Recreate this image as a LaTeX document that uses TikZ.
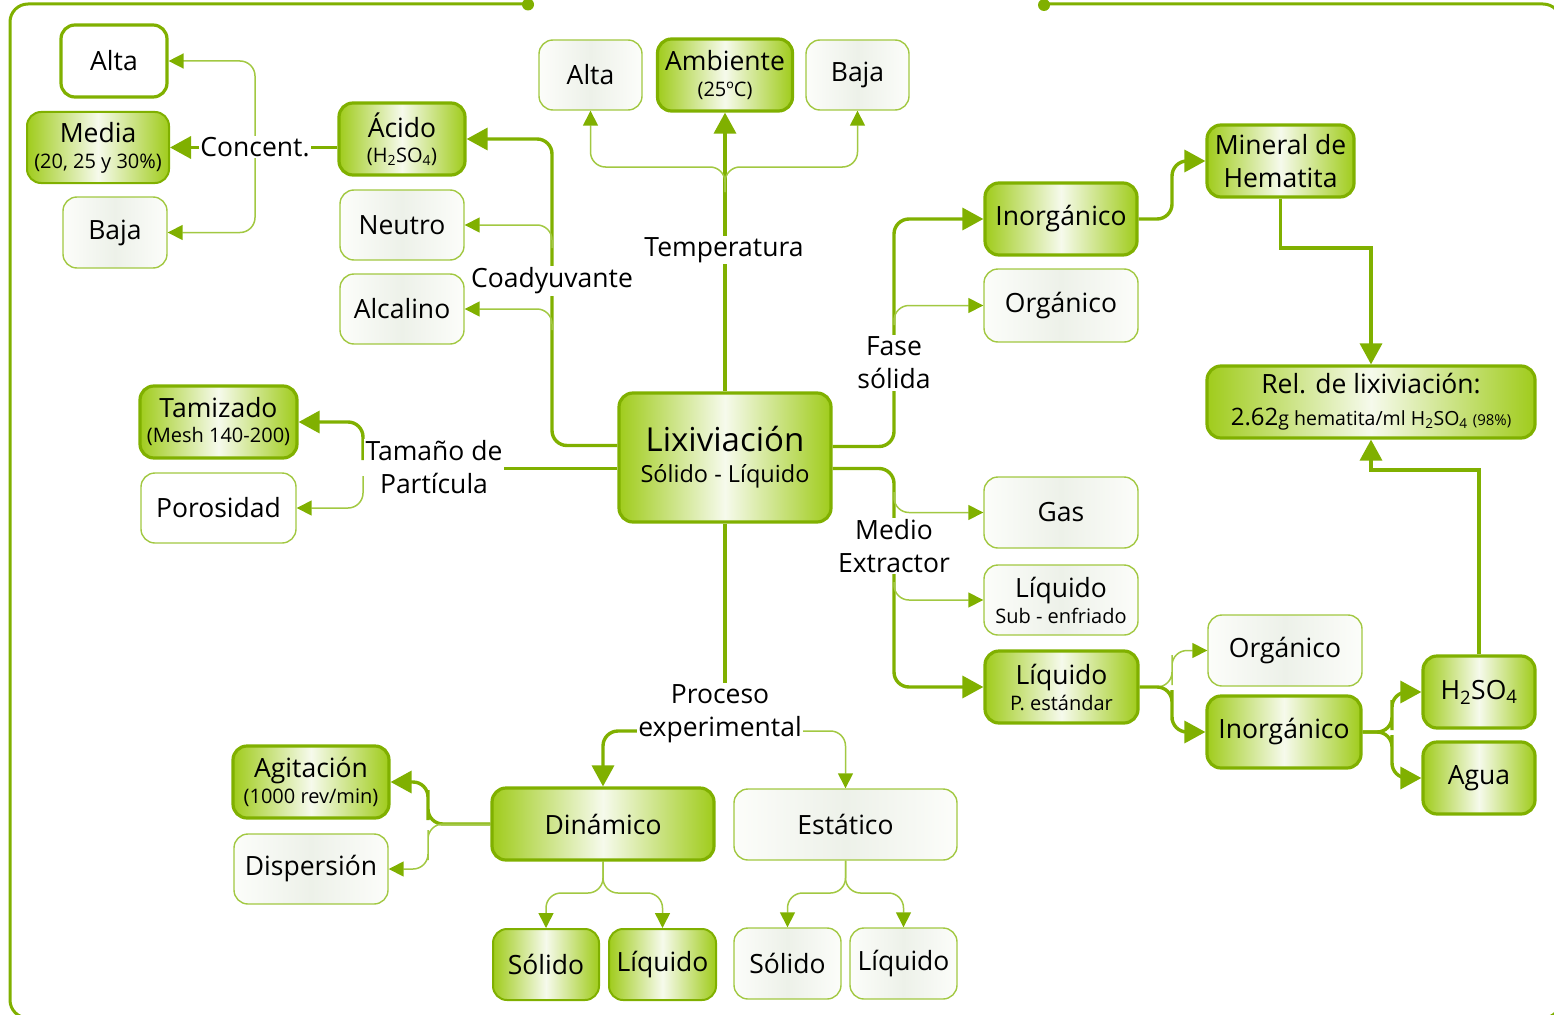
\documentclass[tikz,border=0pt]{standalone}
\usepackage{fontspec}
\setmainfont{Open Sans}
\usetikzlibrary{arrows.meta}
\pgfdeclarelayer{bg}
\pgfsetlayers{bg,main}

\definecolor{gD}{RGB}{128,176,0}
\definecolor{gF}{RGB}{160,204,28}
\definecolor{gM}{RGB}{246,250,236}
\definecolor{gL}{RGB}{162,200,66}
\definecolor{lE}{RGB}{252,253,250}
\definecolor{lM}{RGB}{237,241,233}

\newcommand{\subtxt}[1]{{\fontsize{20}{23}\selectfont #1}}
\newcommand{\hso}{H\textsubscript{2}SO\textsubscript{4}}

\tikzset{
  base/.style={rounded corners=14pt, inner sep=0pt, align=center,
    font=\fontsize{26.5}{29}\selectfont},
  gbox/.style={base, draw=gD, line width=3.2pt,
    left color=gF, right color=gF, middle color=gM},
  gboxthin/.style={gbox, line width=2pt},
  lbox/.style={base, draw=gL, line width=1.4pt,
    left color=lE, right color=lE, middle color=lM},
  wbox/.style={base, draw=gD, line width=3.2pt, fill=white},
  wboxthin/.style={base, draw=gL, line width=1.4pt, fill=white},
  lbl/.style={fill=white, inner sep=1.5pt, align=center,
    font=\fontsize{26.5}{33}\selectfont},
  thk/.style={draw=gD, line width=3.4pt, rounded corners=15pt},
  thn/.style={draw=gL, line width=1.5pt, rounded corners=15pt},
  thkA/.style={thk, -{Triangle[length=21pt,width=22pt,color=gD]}},
  thnA/.style={thn, -{Triangle[length=15pt,width=15pt,color=gD]}},
}

\begin{document}
\begin{tikzpicture}[x=1pt,y=-1pt]
\useasboundingbox (0,0) rectangle (1554,1014);

% ---------- boxes ----------
% concentration
\node[wbox, minimum width=106pt, minimum height=72pt] (AltaL) at (114,61) {Alta};
\node[gboxthin, minimum width=142pt, minimum height=71pt] (Media) at (98,147.5)
  {Media\\[-3pt]\subtxt{(20, 25 y 30\%)}};
\node[lbox, minimum width=104pt, minimum height=71pt] (BajaL) at (115,232.5) {Baja};

% co-adjuvant
\node[gbox, minimum width=126pt, minimum height=72pt] (Acido) at (402,139)
  {Ácido\\[-4pt]\subtxt{(\hso)}};
\node[lbox, minimum width=124pt, minimum height=70pt] (Neutro) at (402,225) {Neutro};
\node[lbox, minimum width=124pt, minimum height=70pt] (Alcal) at (402,309) {Alcalino};

% temperature
\node[lbox, minimum width=103pt, minimum height=70pt] (AltaT) at (590.5,75) {Alta};
\node[gbox, minimum width=135pt, minimum height=72pt] (Amb) at (725,75)
  {Ambiente\\[-3pt]\subtxt{(25ºC)}};
\node[lbox, minimum width=103pt, minimum height=70pt] (BajaT) at (857.5,75) {Baja};

% central node
\node[gbox, minimum width=212pt, minimum height=129pt] (Lix) at (725,457.5)
  {{\fontsize{33}{38}\selectfont Lixiviación}\\[2pt]{\fontsize{23.5}{27}\selectfont Sólido - Líquido}};

% particle size
\node[gbox, minimum width=157pt, minimum height=72pt] (Tamiz) at (218.5,422)
  {Tamizado\\[-4pt]\subtxt{(Mesh 140-200)}};
\node[wboxthin, minimum width=155pt, minimum height=70pt] (Poros) at (218.5,508) {Porosidad};

% solid phase
\node[gbox, minimum width=152pt, minimum height=72pt] (InorgS) at (1061,219) {Inorgánico};
\node[lbox, minimum width=154pt, minimum height=73pt] (OrgS) at (1061,305.5) {Orgánico};
\node[gbox, minimum width=147pt, minimum height=72pt] (Min) at (1280.5,161)
  {Mineral de\\[4pt]Hematita};
\node[gbox, minimum width=328pt, minimum height=72pt] (Rel) at (1371,402)
  {Rel. de lixiviación:\\[3pt]{\fontsize{24}{28}\selectfont 2.62}{\fontsize{19.5}{24}\selectfont g hematita/ml \hso\ }{\fontsize{15}{18}\selectfont (98\%)}};

% extracting medium
\node[lbox, minimum width=154pt, minimum height=71pt] (Gas) at (1061,512.5) {Gas};
\node[lbox, minimum width=154pt, minimum height=70pt] (LiqS) at (1061,600)
  {Líquido\\[-3pt]\subtxt{Sub - enfriado}};
\node[gbox, minimum width=153pt, minimum height=72pt] (LiqP) at (1061.5,687)
  {Líquido\\[-3pt]\subtxt{P. estándar}};
\node[lbox, minimum width=154pt, minimum height=71pt] (Org2) at (1285,650.5) {Orgánico};
\node[gbox, minimum width=154pt, minimum height=72pt] (Inorg2) at (1284,732) {Inorgánico};
\node[gbox, minimum width=112pt, minimum height=72pt] (H2) at (1479,692) {\hso};
\node[gbox, minimum width=112pt, minimum height=72pt] (Agua) at (1479,778) {Agua};

% experimental process
\node[gbox, minimum width=222pt, minimum height=72pt] (Dyn) at (603,824) {Dinámico};
\node[lbox, minimum width=223pt, minimum height=71pt] (Est) at (845.5,824.5) {Estático};
\node[gbox, minimum width=156pt, minimum height=72pt] (Agit) at (311,782)
  {Agitación\\[-3pt]\subtxt{(1000 rev/min)}};
\node[lbox, minimum width=154pt, minimum height=70pt] (Disp) at (311,869) {Dispersión};
\node[gboxthin, minimum width=106pt, minimum height=71pt] (SolD) at (546,964.5) {Sólido};
\node[gboxthin, minimum width=107pt, minimum height=71pt] (LiqD) at (662.5,964.5) {Líquido};
\node[lbox, minimum width=107pt, minimum height=71pt] (SolE) at (787.5,963.5) {Sólido};
\node[lbox, minimum width=107pt, minimum height=71pt] (LiqE) at (903.5,963.5) {Líquido};

% ---------- branch labels ----------
\node[lbl] (ConL) at (255,147) {Concent.};
\node[lbl] (CoaL) at (552,281) {Coadyuvante};
\node[lbl] (TemL) at (724,250) {Temperatura};
\node[lbl] (FasL) at (894,363) {Fase\\sólida};
\node[lbl] (TamL) at (434,467) {Tamaño de\\Partícula};
\node[lbl] (MedL) at (894,546) {Medio\\Extractor};
\node[lbl] (ProL) at (720,714) {Proceso\\experimental};

% ---------- connectors ----------
\begin{pgfonlayer}{bg}
% outer frame with its opening at the top
\draw[gD, line width=3pt, rounded corners=18pt]
  (528,4) -- (10,4) -- (10,1018) -- (1561,1018) -- (1561,4) -- (1044,4);
\fill[gD] (528,4.5) circle (6pt);
\fill[gD] (1044,5) circle (6pt);

% co-adjuvant
\coordinate (cV) at (552,300);
\draw[thkA] ([yshift=12pt]Lix.west) -| (cV) |- (Acido.east);
\coordinate (cN) at (552,248);
\draw[thnA] (cN) |- (Neutro.east);
\coordinate (cA) at (552,330);
\draw[thnA] (cA) |- (Alcal.east);

% concentration
\draw[thkA] (Acido.west |- Media.east) -- (Media.east);
\draw[thnA] (ConL.center) |- (AltaL.east);
\draw[thnA] (ConL.center) |- (BajaL.east);

% temperature
\draw[thkA] (Lix.north) -- (Amb.south);
\coordinate (tB) at (725,192);
\coordinate (tY) at (0,167);
\draw[thnA] (tB) |- (AltaT.south |- tY) -- (AltaT.south);
\draw[thnA] (tB) |- (BajaT.south |- tY) -- (BajaT.south);

% solid phase
\coordinate (fV) at (894,300);
\draw[thkA] ([yshift=11pt]Lix.east) -| (fV) |- (InorgS.west);
\coordinate (fB) at (894,325);
\draw[thnA] (fB) |- (OrgS.west);
\coordinate (imV) at (1172,190);
\draw[thkA] (InorgS.east) -| (imV) |- (Min.west);
\coordinate (mrY) at (0,248);
\draw[thkA, sharp corners] (Min.south) |- (Rel.north |- mrY) -- (Rel.north);

% extracting medium
\coordinate (mV) at (894,600);
\draw[thkA] ([yshift=-11pt]Lix.east) -| (mV) |- (LiqP.west);
\coordinate (mB1) at (894,492);
\draw[thnA] (mB1) |- (Gas.west);
\coordinate (mB2) at (894,582);
\draw[thnA] (mB2) |- (LiqS.west);
\coordinate (lo) at (1172,670);
\draw[thnA] (LiqP.east) -| (lo) |- (Org2.west);
\coordinate (li) at (1172,705);
\draw[thkA] (LiqP.east) -| (li) |- (Inorg2.west);
\coordinate (ih) at (1392,715);
\draw[thkA] (Inorg2.east) -| (ih) |- (H2.west);
\coordinate (ia) at (1392,750);
\draw[thkA] (Inorg2.east) -| (ia) |- (Agua.west);
\coordinate (hrY) at (0,470);
\draw[thkA, sharp corners] (H2.north) |- (Rel.south |- hrY) -- (Rel.south);

% particle size
\coordinate (lT) at ([yshift=-11pt]Lix.west);
\draw[thk] (lT) -- (lT -| TamL.center);
\coordinate (tT) at (363,460);
\draw[thkA] (tT) |- (Tamiz.east);
\coordinate (tP) at (363,476);
\draw[thnA] (tP) |- (Poros.east);

% experimental process
\draw[thk] (Lix.south) -- (Lix.south |- ProL.center);
\coordinate (pL) at (645,731);
\coordinate (pR) at (796,731);
\draw[thkA] (pL) -| (Dyn.north);
\draw[thnA] (pR) -| (Est.north);
\coordinate (dA) at (428,805);
\draw[thkA] (Dyn.west) -| (dA) |- (Agit.east);
\coordinate (dD) at (428,845);
\draw[thnA] (Dyn.west) -| (dD) |- (Disp.east);
\coordinate (bY) at (0,893);
\draw[thnA] (Dyn.south) |- (SolD.north |- bY) -- (SolD.north);
\draw[thnA] (Dyn.south) |- (LiqD.north |- bY) -- (LiqD.north);
\draw[thnA] (Est.south) |- (SolE.north |- bY) -- (SolE.north);
\draw[thnA] (Est.south) |- (LiqE.north |- bY) -- (LiqE.north);
\end{pgfonlayer}
\end{tikzpicture}
\end{document}
